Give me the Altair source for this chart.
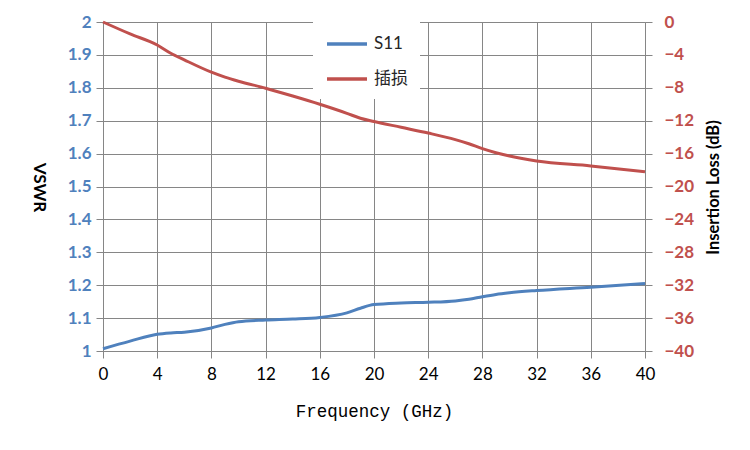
import altair as alt
import pandas as pd

freq = [0, 2, 4, 5, 6, 8, 9, 10, 12, 14, 16, 18, 19, 20, 22, 24, 26, 27, 28, 29, 30, 32, 36, 40]
vswr = [1.007, 1.030, 1.051, 1.055, 1.057, 1.070, 1.081, 1.089, 1.094, 1.097, 1.102, 1.116,
        1.130, 1.141, 1.146, 1.148, 1.152, 1.157, 1.165, 1.172, 1.177, 1.184, 1.194, 1.205]
loss = [0.0, -1.45, -2.8, -3.8, -4.6, -6.1, -6.7, -7.2, -8.05, -9.0, -10.0, -11.1,
        -11.7, -12.1, -12.8, -13.5, -14.3, -14.8, -15.4, -15.9, -16.3, -16.9, -17.5, -18.2]
series_names = ["S11", "插损"]
series_colors = ["#4F81BD", "#C0504D"]
x_ticks = list(range(0, 41, 4))
vswr_ticks = [round(1 + 0.1 * i, 1) for i in range(11)]
loss_ticks = list(range(-40, 1, 4))

df = pd.DataFrame({
    "freq": freq * 2,
    "value": vswr + loss,
    "series": [series_names[0]] * len(freq) + [series_names[1]] * len(freq),
})

grid_col = "#868686"
font = "Lato"

x_enc = alt.X("freq:Q", scale=alt.Scale(domain=[0, 40], nice=False),
              axis=alt.Axis(values=x_ticks, title="Frequency (GHz)", grid=True,
                            gridColor=grid_col, domainColor=grid_col, tickColor=grid_col,
                            tickSize=7, labelFontSize=17, labelFont=font, labelColor="#000000",
                            labelPadding=8, labelFlush=False,
                            titleFont="Liberation Mono", titleFontSize=17.5, titleFontWeight="normal",
                            titleColor="#000000", titleY=60, titleBaseline="middle"))

color_enc = alt.Color("series:N",
                      scale=alt.Scale(domain=series_names, range=series_colors),
                      legend=alt.Legend(orient="none", legendX=210, legendY=-12, title=None,
                                        fillColor="white", padding=12,
                                        symbolType="stroke", symbolSize=1600, symbolStrokeWidth=3.5,
                                        labelFontSize=17, labelFont="Lato, Noto Sans CJK SC",
                                        labelColor="#262626", labelOffset=5, rowPadding=5))

left = alt.Chart(df).transform_filter(alt.datum.series == series_names[0]).mark_line(
    strokeWidth=3, interpolate="monotone").encode(
    x=x_enc,
    y=alt.Y("value:Q", scale=alt.Scale(domain=[1, 2], nice=False, zero=False),
            axis=alt.Axis(values=vswr_ticks, format=".1~f", title="VSWR", orient="left",
                          grid=True, gridColor=grid_col, domainColor=grid_col, tickColor=grid_col,
                          tickSize=7, labelFontSize=17, labelFont=font, labelFontWeight="bold",
                          labelColor="#4F81BD", labelPadding=5,
                          titleFont=font, titleFontSize=17, titleFontWeight="bold",
                          titleColor="#000000", titleAngle=90, titleX=-65, titleY=165,
                          titleAlign="center", titleBaseline="middle")),
    color=color_enc,
)

right = alt.Chart(df).transform_filter(alt.datum.series == series_names[1]).mark_line(
    strokeWidth=3, interpolate="monotone").encode(
    x=x_enc,
    y=alt.Y("value:Q", scale=alt.Scale(domain=[-40, 0], nice=False, zero=False),
            axis=alt.Axis(values=loss_ticks, title="Insertion Loss (dB)", orient="right",
                          grid=False, domainColor=grid_col, tickColor=grid_col,
                          tickSize=7, labelFontSize=17, labelFont=font, labelFontWeight="bold",
                          labelColor="#C0504D", labelPadding=12,
                          titleFont=font, titleFontSize=16.5, titleFontWeight="bold",
                          titleColor="#000000", titleAngle=270, titleX=68, titleY=165,
                          titleAlign="center", titleBaseline="middle")),
    color=color_enc,
)

chart = alt.layer(left, right).resolve_scale(y="independent").properties(
    width=542, height=329,
    autosize=alt.AutoSizeParams(type="none"),
    padding={"left": 95, "top": 14, "right": 97, "bottom": 90},
    background="white",
).configure_view(stroke=None)

chart.save("out.html", embed_options={"renderer": "svg", "actions": False})
